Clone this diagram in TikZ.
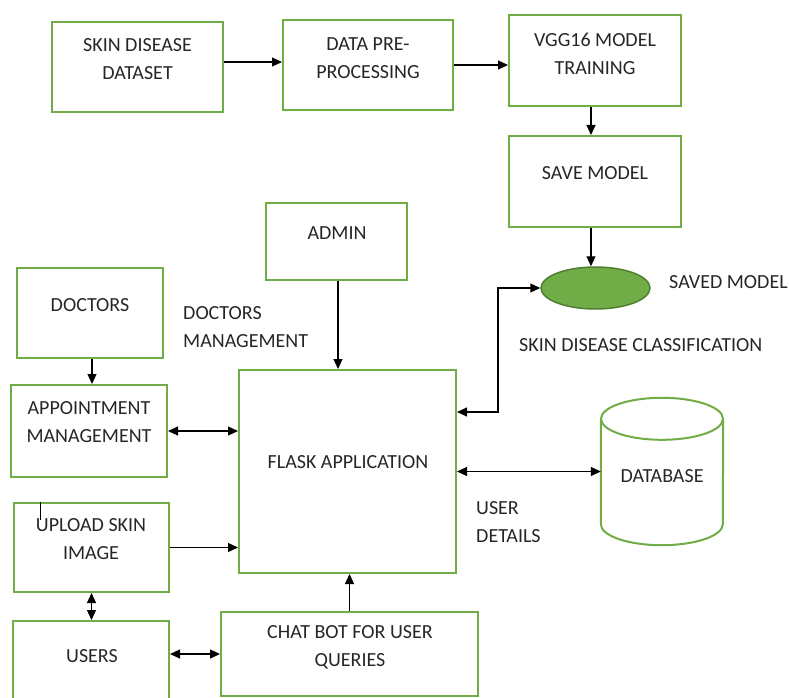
\documentclass[tikz,border=0pt]{standalone}
\usepackage{fontspec}
\setmainfont{Carlito}
\usetikzlibrary{arrows.meta, shapes, positioning}
\definecolor{leafgreen}{RGB}{112,173,71}
\definecolor{darkleaf}{RGB}{80,126,50}
\definecolor{inkgray}{RGB}{38,38,38}
\tikzset{greenbox/.style={rectangle, draw=leafgreen, line width=2pt, inner sep=0pt},
boxtext/.style={text=inkgray, align=center, font=\fontsize{20}{28}\selectfont, inner sep=0pt},
oneway/.style={-{Triangle[length=10pt, width=9pt]}, line width=1.2pt},
twoway/.style={{Triangle[length=10pt, width=9pt]}-{Triangle[length=10pt, width=9pt]}, line width=1.2pt}}

\begin{document}
\begin{tikzpicture}[x=1pt, y=-1pt]
    \useasboundingbox (0,0) rectangle (789,698);

    % Boxes
    \node[greenbox, minimum width=171pt, minimum height=90pt] (dataset) at (137.5,67) {};
    \node[greenbox, minimum width=170pt, minimum height=90pt] (preproc) at (368,65) {};
    \node[greenbox, minimum width=172pt, minimum height=91pt] (vgg) at (595,60.5) {};
    \node[greenbox, minimum width=172pt, minimum height=91pt] (save) at (595,181.5) {};
    \node[greenbox, minimum width=141pt, minimum height=77pt] (admin) at (336.5,241.5) {};
    \node[greenbox, minimum width=146pt, minimum height=90pt] (doctors) at (90,313) {};
    \node[greenbox, minimum width=156pt, minimum height=92pt] (appt) at (89,431) {};
    \node[greenbox, minimum width=217pt, minimum height=203pt] (flask) at (347.5,471.5) {};
    \node[greenbox, minimum width=155pt, minimum height=89pt] (upload) at (91.5,547.5) {};
    \node[greenbox, minimum width=156pt, minimum height=80pt] (users) at (91,661) {};
    \node[greenbox, minimum width=257pt, minimum height=84pt] (chatbot) at (349.5,654) {};
    \node[ellipse, fill=leafgreen, draw=darkleaf, line width=1.5pt, minimum width=109pt, minimum height=42pt, inner sep=0pt] (model) at (595.5,288) {};
    \node[minimum width=122pt, minimum height=147pt, inner sep=0pt] (db) at (662,471.5) {};

    % Database outline
    \draw[leafgreen, line width=2pt] ([yshift=-21pt]db.north west) -- ([yshift=21pt]db.south west)
        arc[start angle=180, end angle=360, x radius=61pt, y radius=21pt] -- ([yshift=-21pt]db.north east);
    \draw[leafgreen, line width=2pt] ([yshift=-21pt]db.north) ellipse [x radius=61pt, y radius=21pt];

    % Texts
    \node[boxtext] (dataset-t) at (137.5,59) {SKIN DISEASE\\DATASET};
    \node[boxtext] (preproc-t) at (368,58) {DATA PRE-\\PROCESSING};
    \node[boxtext] (vgg-t) at (595,53.5) {VGG16 MODEL\\TRAINING};
    \node[boxtext] (save-t) at (595,173) {SAVE MODEL};
    \node[boxtext] (admin-t) at (337,233) {ADMIN};
    \node[boxtext] (doctors-t) at (90,305) {DOCTORS};
    \node[boxtext] (appt-t) at (89,422) {APPOINTMENT\\MANAGEMENT};
    \node[boxtext] (flask-t) at (348,462) {FLASK APPLICATION};
    \node[boxtext] (upload-t) at (91,539) {UPLOAD SKIN\\IMAGE};
    \node[boxtext] (users-t) at (92,656) {USERS};
    \node[boxtext] (chatbot-t) at (350,647) {CHAT BOT FOR USER\\QUERIES};
    \node[boxtext] (db-t) at (662,476) {DATABASE};
    \node[boxtext, anchor=west] (model-t) at (669,282) {SAVED MODEL};
    \node[boxtext, anchor=west] (classify-t) at (519,345) {SKIN DISEASE CLASSIFICATION};
    \node[boxtext, anchor=west, align=left] (docmgmt-t) at (183,327) {DOCTORS\\MANAGEMENT};
    \node[boxtext, anchor=west, align=left] (userdet-t) at (476,522) {USER\\DETAILS};

    % Arrows
    \draw[oneway] ([yshift=5pt]dataset.east) -- ([yshift=5pt]dataset.east -| preproc.west);
    \draw[oneway] (preproc.east) -- (preproc.east -| vgg.west);
    \draw[oneway] ([xshift=-4pt]vgg.south) -- ([xshift=-4pt]save.north);
    \draw[oneway] ([xshift=-4pt]save.south) -- ([xshift=-4pt]save.south |- model.north);
    \draw[twoway] (flask.east |- 0,412) -- (498,412) |- (model.west);
    \draw[oneway] ([xshift=1.5pt]admin.south) -- ([xshift=1.5pt]admin.south |- flask.north);
    \draw[oneway] ([xshift=2pt]doctors.south) -- ([xshift=2pt]doctors.south |- appt.north);
    \draw[twoway] (appt.east) -- (appt.east -| flask.west);
    \draw[twoway] (flask.east) -- (flask.east -| db.west);
    \draw[oneway] (upload.east) -- (upload.east -| flask.west);
    \draw[twoway] (upload.south) -- (upload.south |- users.north);
    \draw[twoway] (chatbot.west) -- (chatbot.west -| users.east);
    \draw[oneway] (chatbot.north) -- (chatbot.north |- flask.south);
    \draw[line width=1pt] ([xshift=-51.5pt]upload.north) -- ++(0,18);
\end{tikzpicture}
\end{document}
